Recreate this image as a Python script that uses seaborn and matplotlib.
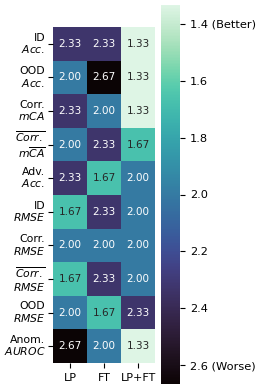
import numpy as np
import pandas as pd
import matplotlib
matplotlib.use("Agg")
import matplotlib.pyplot as plt
import seaborn as sns

# mean rank of each method per metric (lower is better)
methods = ["LP", "FT", "LP+FT"]
metrics = [
    "ID\n$Acc.$",
    "OOD\n$Acc.$",
    "Corr.\n$mCA$",
    "$\\overline{Corr.}$\n$m\\overline{CA}$",
    "Adv.\n$Acc.$",
    "ID\n$RMSE$",
    "Corr.\n$RMSE$",
    "$\\overline{Corr.}$\n$RMSE$",
    "OOD\n$RMSE$",
    "Anom.\n$AUROC$",
]
lp = [2.33, 2.00, 2.33, 2.00, 2.33, 1.67, 2.00, 1.67, 2.00, 2.67]
ft = [2.33, 2.67, 2.00, 2.33, 1.67, 2.33, 2.00, 2.33, 1.67, 2.00]
lpft = [1.33, 1.33, 1.33, 1.67, 2.00, 2.00, 2.00, 2.00, 2.33, 1.33]

cbar_ticks = [1.4, 1.6, 1.8, 2.0, 2.2, 2.4, 2.6]
cbar_labels = ["1.4 (Better)", "1.6", "1.8", "2.0", "2.2", "2.4", "2.6 (Worse)"]

df = pd.DataFrame({"LP": lp, "FT": ft, "LP+FT": lpft}, index=metrics)[methods]

W, H = 259, 390
fig = plt.figure(figsize=(W / 100, H / 100), dpi=100)
ax = fig.add_axes([53 / W, (H - 363) / H, 102 / W, 336 / H])
cax = fig.add_axes([161 / W, (H - 384) / H, 19 / W, 379 / H])

sns.heatmap(df, ax=ax, cbar_ax=cax, cmap="mako_r", annot=True, fmt=".2f",
            annot_kws={"size": 7.5}, vmin=4 / 3, vmax=8 / 3)

ax.tick_params(axis="y", labelsize=7.8, rotation=0, pad=2)
ax.tick_params(axis="x", labelsize=8, rotation=0)
for t in ax.get_yticklabels():
    t.set_horizontalalignment("right")
    t.set_multialignment("right")
    t.set_linespacing(1.05)

cbar = ax.collections[0].colorbar
cbar.set_ticks(cbar_ticks)
cbar.set_ticklabels(cbar_labels)
cbar.ax.tick_params(labelsize=8.2)
cax.invert_yaxis()

fig.savefig("out.png", dpi=100)
